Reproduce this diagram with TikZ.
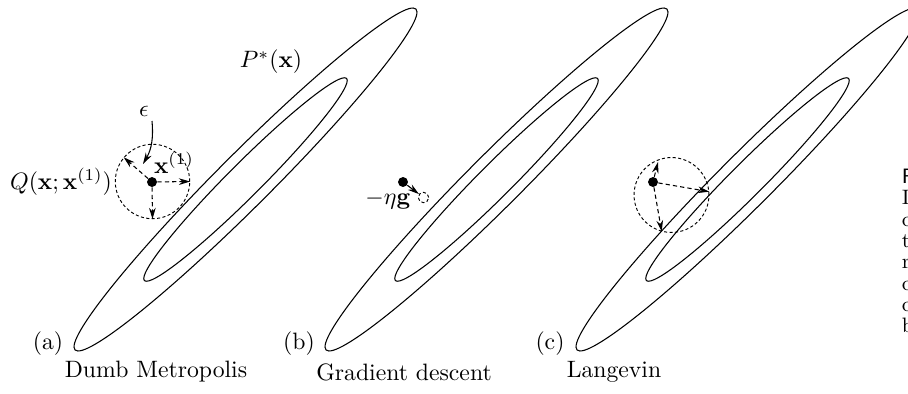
\documentclass[tikz,border=0pt]{standalone}
\usetikzlibrary{arrows.meta}
\begin{document}
\begin{tikzpicture}[x=0.4219pt, y=-0.4219pt,
  contour/.style={line width=0.45pt},
  dotnode/.style={circle, fill=black, inner sep=0pt, minimum size=4.2pt},
  propcircle/.style={circle, draw, dash pattern=on 1.3pt off 1pt, line width=0.4pt, inner sep=0pt},
  jump/.style={dash pattern=on 1.8pt off 1.3pt, line width=0.45pt, -{Stealth[length=4.8pt,width=2.8pt]}},
  solidarrow/.style={line width=0.45pt, -{Stealth[length=4.8pt,width=2.8pt]}},
  lbl/.style={inner sep=0pt},
  capletter/.style={inner sep=0pt, anchor=base west, font=\fontsize{8.8}{9}\selectfont}]
\path[use as bounding box] (0,0) rectangle (908,393);
\begin{scope}
\clip (0,0) rectangle (908,393);
% contours of P*(x)
\foreach \cx in {245.5, 496.5, 747.5} {
  \draw[contour, rotate around={45:(\cx,179.5)}] (\cx,179.5) ellipse [x radius=101.7pt, y radius=11.2pt];
  \draw[contour, rotate around={45:(\cx,179.5)}] (\cx,179.5) ellipse [x radius=60.3pt, y radius=7.0pt];
}
% caption letters (cut off at right edge)
\node[capletter] (cap1) at (901.5,183.5) {\sffamily F};
\node[capletter] (cap2) at (901.5,204.8) {I};
\node[capletter] (cap3) at (901.5,226.1) {c};
\node[capletter] (cap4) at (901.5,247.4) {t};
\node[capletter] (cap5) at (901.5,268.7) {r};
\node[capletter] (cap6) at (901.5,290.0) {c};
\node[capletter] (cap7) at (901.5,311.3) {c};
\node[capletter] (cap8) at (901.5,332.6) {b};
\end{scope}

% ---- panel (a) ----
\node[propcircle, minimum size=31.4pt] (Qa) at (152.5,181.5) {};
\node[dotnode] (xa) at (152,182) {};
\draw[jump] (xa) -- (Qa.east);
\draw[jump] (xa) -- (Qa.south);
\draw[jump] (xa) -- (Qa.140);
\node[lbl] (xlab) at (174,163) {$\mathbf{x}^{(1)}$};
\node[lbl] (Qlab) at (61,182) {$Q(\mathbf{x};\mathbf{x}^{(1)})$};
\node[lbl] (eps) at (144,111) {$\epsilon$};
\coordinate (epsend) at (143,164);
\draw[solidarrow] (152,121) to[out=-85, in=60] (epsend);
\node[lbl] (Plab) at (271,62) {$P^*(\mathbf{x})$};
\node[lbl] (la) at (48,344) {(a)};
\node[lbl] (ca) at (156,372) {Dumb Metropolis};

% ---- panel (b) ----
\node[dotnode] (xb) at (403,182) {};
\node[propcircle, minimum size=4.4pt] (nb) at (423.5,197.5) {};
\draw[solidarrow] (xb) -- (nb);
\node[lbl] (etag) at (388,200) {$-\eta\mathbf{g}$};
\node[lbl] (lb) at (299,344) {(b)};
\node[lbl] (cb) at (404,372) {Gradient descent};

% ---- panel (c) ----
\node[propcircle, minimum size=31.6pt] (Qc) at (671.5,195) {};
\node[dotnode] (xc) at (653,182) {};
\coordinate (cup) at (658,162);
\draw[jump] (xc) -- (cup);
\draw[jump] (xc) -- (Qc.5);
\draw[jump] (xc) -- (Qc.255);
\node[lbl] (lc) at (550,344) {(c)};
\node[lbl] (cc) at (614,372) {Langevin};
\end{tikzpicture}
\end{document}
